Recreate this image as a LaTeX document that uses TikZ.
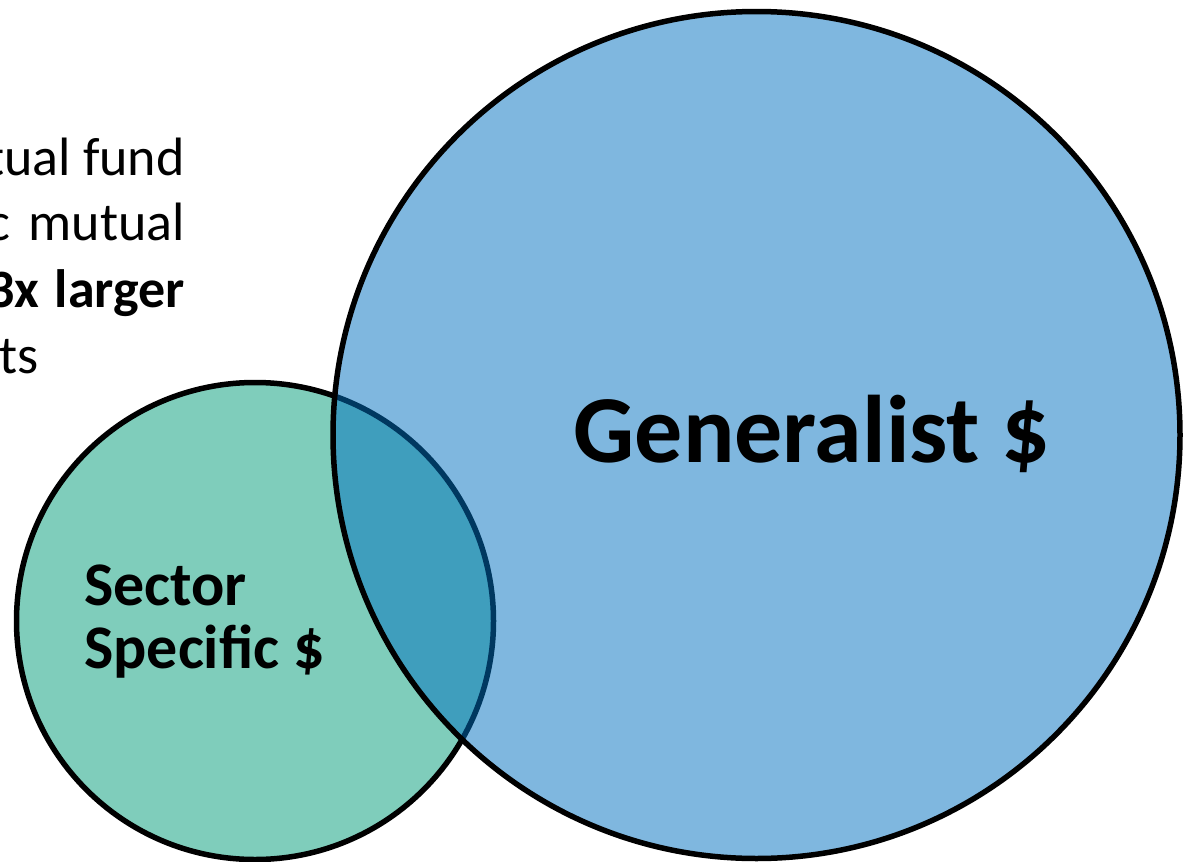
\documentclass[tikz,border=0pt]{standalone}
\usepackage{fontspec}
\setmainfont{Carlito}
\definecolor{sectorgreen}{RGB}{127,205,187}
\definecolor{genblue}{RGB}{0,112,192}
\begin{document}
\begin{tikzpicture}[x=1pt,y=-1pt,
  bodytext/.style={inner sep=0pt, font=\fontsize{54}{66}\selectfont},
  circlelabel/.style={inner sep=0pt, font=\bfseries\fontsize{62}{63}\selectfont},
  ring/.style={circle, inner sep=0pt, line width=5.5pt, draw=black}]
\useasboundingbox (0,0) rectangle (1192,862);
% left paragraph fragments
\node[bodytext, anchor=base east] (l1) at (185,175) {tual fund};
\node[bodytext, anchor=base east] (l2b) at (185,240) {mutual};
\node[bodytext, anchor=base east] (l2a) at (11,240) {c};
\node[bodytext, anchor=base east, font=\bfseries\fontsize{54}{66}\selectfont] (l3) at (185,307) {3x\hspace{3pt} larger};
\node[bodytext, anchor=base west] (l4) at (-1,373) {ts};
% circles
\node[ring, fill=sectorgreen, minimum size=477pt] (sector) at (255,621) {};
\node[ring, fill=genblue, fill opacity=0.5, minimum size=847pt] (general) at (756.5,435) {};
% labels
\node[circlelabel, anchor=base west] (s1) at (84,605) {Sector};
\node[circlelabel, anchor=base west] (s2) at (84,668) {Specific \$};
\node[inner sep=0pt, anchor=base, font=\bfseries\fontsize{96}{100}\selectfont] (glabel) at (812,462) {Generalist \$};
\end{tikzpicture}
\end{document}
